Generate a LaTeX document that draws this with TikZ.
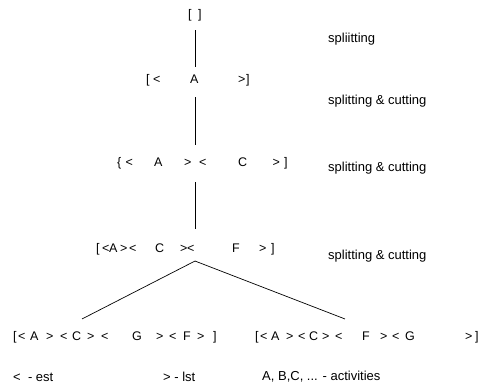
\documentclass[tikz,border=0pt]{standalone}
\usepackage{fontspec}
\setmainfont{Liberation Sans}
\usetikzlibrary{calc}
\newcommand{\glyphAt}[2]{\makebox[0pt][l]{\hspace*{#1pt}#2}}
\newcommand{\rowOf}[2]{\makebox[#1pt][l]{#2}}
\tikzset{
  row/.style={anchor=west, inner sep=0pt, font=\fontsize{12.5}{14}\selectfont},
  stage/.style={anchor=west, inner sep=0pt, font=\fontsize{13}{15}\selectfont},
  link/.style={black, line width=0.7pt}
}

\begin{document}
\begin{tikzpicture}[x=1pt, y=-1pt]
    \useasboundingbox (0,0) rectangle (483,386);

    % the tree
    \node[row] (root) at (188,15) {\rowOf{14}{\glyphAt{0}{[}\glyphAt{10}{]}}};
    \node[row] (split1) at (146,80) {\rowOf{104}{\glyphAt{0}{[}\glyphAt{7}{<}\glyphAt{44}{A}\glyphAt{92}{>}\glyphAt{100}{]}}};
    \node[row] (split2) at (117,163) {\rowOf{171}{\glyphAt{0}{\{}\glyphAt{8.5}{<}\glyphAt{37}{A}\glyphAt{67}{>}\glyphAt{82}{<}\glyphAt{121}{C}\glyphAt{155.5}{>}\glyphAt{167}{]}}};
    \node[row] (split3) at (96,249) {\rowOf{179}{\glyphAt{0}{[}\glyphAt{6}{<}\glyphAt{13}{A}\glyphAt{24}{>}\glyphAt{33}{<}\glyphAt{59}{C}\glyphAt{84}{>}\glyphAt{91}{<}\glyphAt{136}{F}\glyphAt{163}{>}\glyphAt{175}{]}}};

    % the two orders
    \node[row] (leafL) at (13,337) {\rowOf{204}{\glyphAt{0}{[}\glyphAt{5}{<}\glyphAt{17}{A}\glyphAt{33}{>}\glyphAt{47}{<}\glyphAt{59}{C}\glyphAt{74}{>}\glyphAt{88}{<}\glyphAt{119}{G}\glyphAt{143}{>}\glyphAt{156}{<}\glyphAt{170}{F}\glyphAt{184}{>}\glyphAt{200}{]}}};
    \node[row] (leafR) at (255,337) {\rowOf{224}{\glyphAt{0}{[}\glyphAt{5}{<}\glyphAt{16}{A}\glyphAt{31}{>}\glyphAt{43}{<}\glyphAt{54}{C}\glyphAt{67}{>}\glyphAt{80}{<}\glyphAt{107}{F}\glyphAt{125}{>}\glyphAt{137}{<}\glyphAt{150}{G}\glyphAt{210}{>}\glyphAt{220}{]}}};

    \draw[link, shorten <=9pt, shorten >=7pt] ([xshift=7pt]root.south west) -- ([xshift=7pt]root.south west |- split1.north);
    \draw[link, shorten <=11pt, shorten >=12pt] ([xshift=7pt]root.south west |- split1.south) -- ([xshift=7pt]root.south west |- split2.north);
    \draw[link, shorten <=13pt, shorten >=14pt] ([xshift=7pt]root.south west |- split2.south) -- ([xshift=7pt]root.south west |- split3.north);

    \coordinate (fork) at ($([xshift=7pt]root.south west |- split3.south)+(0,6)$);
    \draw[link] (fork) -- ([xshift=69pt, yshift=12pt]leafL.north west);
    \draw[link] (fork) -- ([xshift=90pt, yshift=12pt]leafR.north west);

    % steps
    \node[stage] (step1) at (328,39) {spliitting};
    \node[stage] (step2) at (328,101.5) {splitting \& cutting};
    \node[stage] (step3) at (328,168) {splitting \& cutting};
    \node[stage] (step4) at (328,256.5) {splitting \& cutting};

    % legend
    \node[stage] (est) at (13,377) {<\ \ - est};
    \node[stage] (lst) at (163,377) {> - lst};
    \node[stage] (acts) at (262,377) {A, B,C, ... - activities};
\end{tikzpicture}
\end{document}
